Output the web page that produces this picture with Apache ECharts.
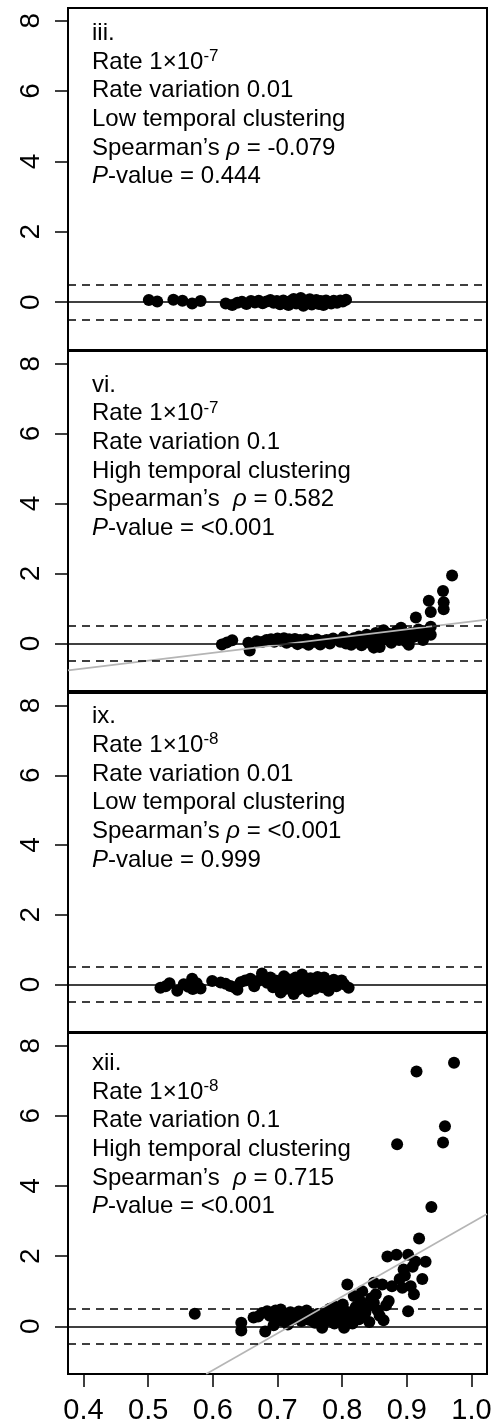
<!DOCTYPE html>
<html>
<head>
<meta charset="utf-8">
<script src="https://cdn.jsdelivr.net/npm/echarts@6/dist/echarts.min.js"></script>
<style>
  html, body { margin: 0; padding: 0; background: #fff; }
  #chart { width: 503px; height: 1428px; }
</style>
</head>
<body>
<div id="chart"></div>
<script>
// tick labels and reference lines
const xTicks = [0.4, 0.5, 0.6, 0.7, 0.8, 0.9, 1.0];
const yTicks = [0, 2, 4, 6, 8];
const refLines = [0, 0.5, -0.5];

// points [x, y]
const panel1 = [[0.501,0.06],[0.514,0.02],[0.539,0.07],[0.553,0.04],[0.568,-0.04],[0.581,0.03],
  [0.620,-0.04],[0.630,-0.08],[0.638,-0.02],[0.645,0.01],[0.652,-0.05],[0.659,0.03],[0.665,-0.01],
  [0.671,0.04],[0.677,-0.03],[0.683,0.02],[0.689,0.06],[0.694,-0.02],[0.699,0.03],[0.704,-0.06],
  [0.709,0.05],[0.713,0.00],[0.717,-0.08],[0.721,0.04],[0.725,0.09],[0.729,-0.04],[0.733,0.02],
  [0.736,0.12],[0.740,-0.10],[0.743,0.05],[0.747,-0.03],[0.750,0.08],[0.753,-0.07],[0.757,0.02],
  [0.760,0.06],[0.764,-0.05],[0.767,0.03],[0.771,-0.08],[0.775,0.05],[0.779,0.00],[0.783,-0.04],
  [0.787,0.04],[0.792,-0.02],[0.797,0.05],[0.801,0.02],[0.806,0.07]];

const panel2 = [[0.614,-0.03],[0.622,0.03],[0.630,0.09],[0.655,0.02],[0.657,-0.20],[0.668,0.06],
  [0.676,0.04],[0.683,0.10],[0.690,0.12],[0.695,0.05],[0.700,0.14],[0.705,0.08],[0.710,0.15],
  [0.714,0.02],[0.718,0.12],[0.722,0.07],[0.727,0.13],[0.731,-0.02],[0.735,0.10],[0.740,0.03],
  [0.744,0.12],[0.748,-0.04],[0.752,0.08],[0.757,0.05],[0.761,0.11],[0.766,-0.03],[0.771,0.07],
  [0.776,0.10],[0.781,0.00],[0.786,0.14],[0.797,0.05],[0.802,0.18],[0.806,0.00],[0.810,0.10],
  [0.814,-0.04],[0.818,0.15],[0.822,0.05],[0.826,0.20],[0.830,-0.05],[0.834,0.12],[0.838,0.25],
  [0.842,0.02],[0.846,0.18],[0.849,-0.12],[0.852,0.30],[0.855,0.08],[0.858,-0.10],[0.861,0.22],
  [0.864,0.38],[0.868,0.12],[0.872,0.28],[0.876,0.02],[0.880,0.20],[0.884,0.35],[0.888,0.10],
  [0.891,0.45],[0.895,0.25],[0.899,0.05],[0.903,-0.04],[0.906,0.30],[0.910,0.18],[0.914,0.74],
  [0.918,0.40],[0.921,0.22],[0.925,0.10],[0.929,0.33],[0.934,1.22],[0.937,0.90],[0.937,0.48],
  [0.937,0.25],[0.956,1.50],[0.957,1.18],[0.957,0.98],[0.970,1.94]];

const panel3 = [[0.519,-0.09],[0.527,-0.05],[0.533,0.04],[0.545,-0.18],[0.555,0.01],[0.562,-0.06],
  [0.568,0.17],[0.569,-0.13],[0.575,0.04],[0.581,-0.11],[0.599,0.10],[0.612,0.06],[0.620,0.02],
  [0.627,-0.04],[0.633,-0.08],[0.638,-0.15],[0.643,0.07],[0.650,0.12],[0.658,0.17],[0.664,-0.05],
  [0.669,0.10],[0.676,0.32],[0.680,0.15],[0.684,0.05],[0.689,0.20],[0.693,-0.08],[0.697,0.12],
  [0.701,0.02],[0.705,-0.23],[0.708,0.08],[0.710,0.24],[0.713,-0.12],[0.716,0.15],[0.719,-0.03],
  [0.722,0.10],[0.725,-0.27],[0.728,0.20],[0.731,-0.15],[0.734,0.05],[0.738,0.29],[0.741,-0.10],
  [0.744,0.12],[0.748,-0.20],[0.751,0.18],[0.755,0.00],[0.758,-0.12],[0.762,0.22],[0.766,0.06],
  [0.770,-0.08],[0.772,0.20],[0.776,0.10],[0.779,-0.18],[0.783,0.05],[0.787,0.14],[0.791,-0.05],
  [0.795,0.08],[0.799,0.12],[0.803,0.01],[0.810,-0.09]];

const panel4 = [[0.572,0.36],[0.644,0.10],[0.644,-0.12],[0.663,0.25],[0.670,0.28],[0.676,0.38],
  [0.681,-0.15],[0.684,0.43],[0.688,0.30],[0.694,0.03],[0.697,0.45],[0.700,0.22],[0.705,0.48],
  [0.708,0.15],[0.712,0.35],[0.716,0.05],[0.720,0.40],[0.724,0.20],[0.728,0.30],[0.733,0.42],
  [0.737,0.15],[0.741,0.25],[0.745,0.45],[0.750,0.18],[0.754,0.30],[0.758,0.10],[0.762,0.35],
  [0.766,0.22],[0.769,-0.04],[0.773,0.40],[0.777,0.15],[0.781,0.50],[0.784,0.28],[0.788,0.08],
  [0.791,0.55],[0.795,0.20],[0.798,0.35],[0.801,0.62],[0.803,-0.04],[0.806,0.15],[0.808,1.19],
  [0.810,0.40],[0.813,0.25],[0.816,0.08],[0.818,0.86],[0.821,0.55],[0.823,0.48],[0.826,0.20],
  [0.829,0.70],[0.831,1.00],[0.834,0.30],[0.836,0.39],[0.839,0.55],[0.842,0.12],[0.845,0.80],
  [0.849,0.67],[0.849,1.24],[0.852,0.91],[0.855,0.45],[0.858,0.30],[0.862,1.19],[0.864,0.17],
  [0.868,0.60],[0.872,0.72],[0.870,1.99],[0.877,1.14],[0.884,2.04],[0.885,5.19],[0.889,1.35],
  [0.893,1.10],[0.895,1.62],[0.897,1.45],[0.902,2.04],[0.902,0.43],[0.906,1.14],[0.909,1.70],
  [0.911,0.91],[0.913,1.85],[0.915,7.26],[0.919,2.50],[0.924,1.35],[0.929,1.84],[0.938,3.40],
  [0.956,5.24],[0.959,5.70],[0.973,7.51]];

// fitted grey lines (endpoints), only panels vi. and xii.
const fit2 = [[0.376,-0.77],[1.024,0.68]];
const fit4 = [[0.5897,-1.36],[1.024,3.20]];

const text1 = ['iii.', '{n|Rate 1×10}{s|-7}', 'Rate variation 0.01', 'Low temporal clustering',
  '{n|Spearman’s }{i|ρ}{n| = -0.079}', '{i|P}{n|-value = 0.444}'];
const text2 = ['vi.', '{n|Rate 1×10}{s|-7}', 'Rate variation 0.1', 'High temporal clustering',
  '{n|Spearman’s  }{i|ρ}{n| = 0.582}', '{i|P}{n|-value = <0.001}'];
const text3 = ['ix.', '{n|Rate 1×10}{s|-8}', 'Rate variation 0.01', 'Low temporal clustering',
  '{n|Spearman’s }{i|ρ}{n| = <0.001}', '{i|P}{n|-value = 0.999}'];
const text4 = ['xii.', '{n|Rate 1×10}{s|-8}', 'Rate variation 0.1', 'High temporal clustering',
  '{n|Spearman’s  }{i|ρ}{n| = 0.715}', '{i|P}{n|-value = <0.001}'];

const panels = [panel1, panel2, panel3, panel4];
const fits = [null, fit2, null, fit4];
const texts = [text1, text2, text3, text4];

const FONT = '"Liberation Sans", Arial, Helvetica, sans-serif';
const tops = [8, 351, 693, 1033];
const heights = [342, 340, 339, 341];
const firstBaseline = [41.7, 393.3, 725, 1071.7];

const chart = echarts.init(document.getElementById('chart'));

const grid = [], xAxis = [], yAxis = [], series = [], graphic = [];
for (let i = 0; i < 4; i++) {
  grid.push({
    left: 68, width: 419, top: tops[i], height: heights[i],
    show: true, borderColor: '#000', borderWidth: 2, backgroundColor: 'transparent'
  });
  xAxis.push({
    gridIndex: i, type: 'value', min: 0.376, max: 1.024,
    show: i === 3, position: 'bottom',
    axisLine: { show: false, onZero: false },
    splitLine: { show: false },
    axisTick: { show: true, customValues: xTicks, length: 13, lineStyle: { color: '#000', width: 1.5 } },
    axisLabel: {
      customValues: xTicks, fontSize: 29, fontFamily: FONT, color: '#000', margin: 22,
      formatter: v => v.toFixed(1)
    }
  });
  yAxis.push({
    gridIndex: i, type: 'value', min: -1.36, max: 8.36,
    axisLine: { show: false, onZero: false },
    splitLine: { show: false },
    axisTick: { show: true, customValues: yTicks, length: 13, lineStyle: { color: '#000', width: 1.5 } },
    axisLabel: { customValues: yTicks, rotate: 90, fontSize: 28, fontFamily: FONT, color: '#000', margin: 23 }
  });
  series.push({
    type: 'scatter', xAxisIndex: i, yAxisIndex: i,
    data: panels[i], symbolSize: 12,
    itemStyle: { color: '#000', opacity: 1 },
    z: 2,
    markLine: {
      silent: true, symbol: ['none', 'none'], label: { show: false }, animation: false,
      data: refLines.map(v => ({
        yAxis: v,
        lineStyle: { color: '#000', width: 1.5, type: v === 0 ? 'solid' : [8, 6] }
      }))
    }
  });
  if (fits[i]) {
    series.push({
      type: 'line', xAxisIndex: i, yAxisIndex: i,
      data: fits[i], showSymbol: false, clip: true, z: 4,
      lineStyle: { color: '#b5b5b5', width: 1.6 }
    });
  }
  texts[i].forEach((t, k) => {
    graphic.push({
      type: 'text', x: 92, y: firstBaseline[i] + k * 28.7 - 8.4, z: 10,
      style: {
        text: t, fill: '#000', fontSize: 24, fontFamily: FONT, verticalAlign: 'middle',
        rich: {
          n: { fontSize: 24, fontFamily: FONT, lineHeight: 28 },
          i: { fontSize: 24, fontFamily: FONT, fontStyle: 'italic', lineHeight: 28 },
          s: { fontSize: 17, fontFamily: FONT, lineHeight: 16, verticalAlign: 'top' }
        }
      }
    });
  });
}

chart.setOption({
  animation: false,
  backgroundColor: '#fff',
  grid: grid,
  xAxis: xAxis,
  yAxis: yAxis,
  series: series,
  graphic: graphic
});
</script>
</body>
</html>
